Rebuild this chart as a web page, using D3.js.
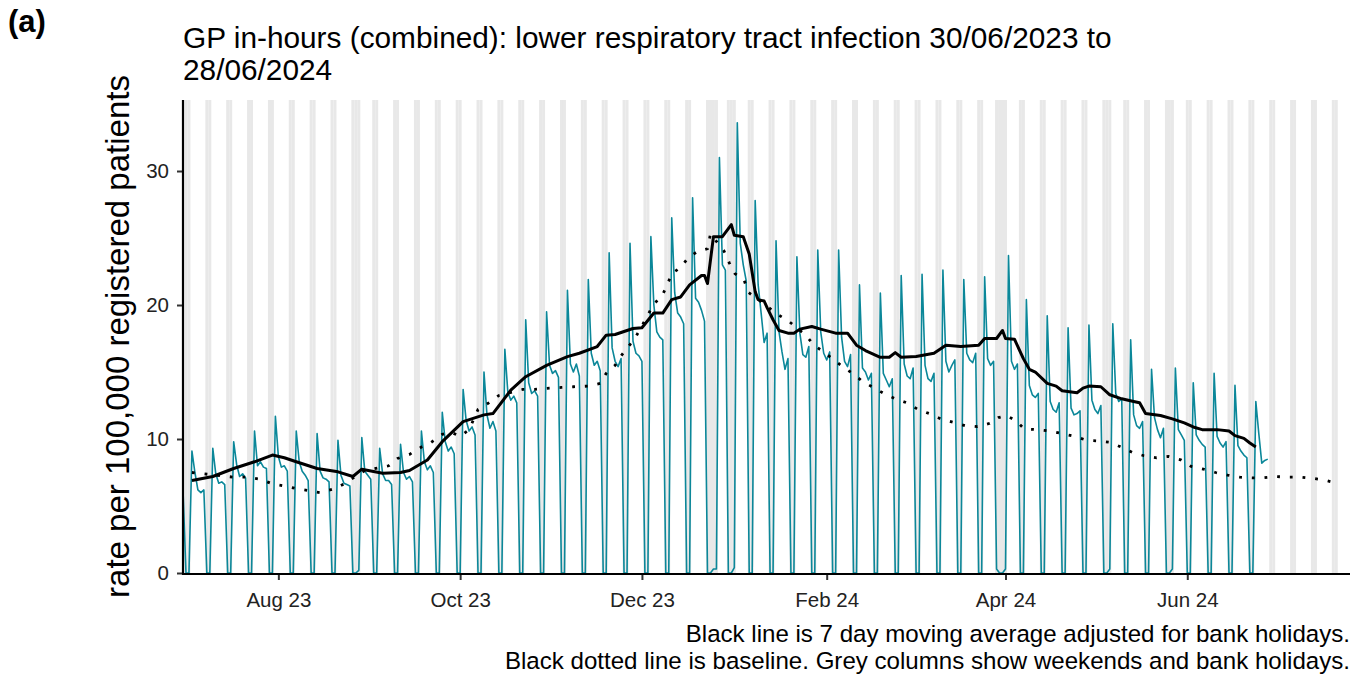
<!DOCTYPE html>
<html><head><meta charset="utf-8">
<script src="https://cdn.jsdelivr.net/npm/d3@7/dist/d3.min.js"></script>
<style>
body{margin:0;background:#fff}
svg{display:block}
text{font-family:"Liberation Sans",Arial,Helvetica,sans-serif}
</style>
</head><body>
<svg id="chart" width="1365" height="675"></svg>
<script>
// ---------------- DATA ----------------
const startDate = "2023-06-30";   // first day of the daily series
const axisEndDate = "2024-07-26"; // right end of the x axis
const xTickDates = ["2023-08-01","2023-10-01","2023-12-01","2024-02-01","2024-04-01","2024-06-01"];
const xTickLabels = ["Aug 23","Oct 23","Dec 23","Feb 24","Apr 24","Jun 24"];
const yTicks = [0,10,20,30];
const bankHolidays = ["2023-08-28","2023-12-25","2023-12-26","2024-01-01","2024-03-29","2024-04-01","2024-05-06","2024-05-27"];

// daily rate per 100,000, 30/06/2023 .. 28/06/2024 (rows: Mon..Sun)
const rate = [
                        6.2, 0, 0,
  9.1, 7.5, 6.2, 6.0, 6.2, 0, 0,
  9.3, 7.4, 6.7, 6.8, 6.6, 0, 0,
  9.8, 8.1, 7.2, 7.4, 7.1, 0, 0,
  10.6, 8.0, 8.3, 7.9, 7.8, 0, 0,
  11.7, 8.7, 7.9, 8.0, 7.6, 0, 0,
  10.6, 8.3, 7.6, 7.3, 6.9, 0, 0,
  10.4, 7.6, 7.1, 7.0, 6.8, 0, 0,
  9.9, 7.3, 6.7, 6.6, 6.5, 0, 0,
  0.2, 10.1, 7.6, 7.3, 7.0, 0, 0,
  9.3, 7.4, 6.9, 6.9, 6.6, 0, 0,
  9.6, 7.5, 7.0, 7.2, 6.8, 0, 0,
  10.6, 8.3, 7.7, 8.0, 7.5, 0, 0,
  12.0, 9.8, 9.1, 9.4, 8.9, 0, 0,
  13.7, 11.4, 10.6, 10.9, 10.3, 0, 0,
  15.0, 11.8, 10.8, 11.3, 10.6, 0, 0,
  16.7, 13.5, 12.9, 13.2, 12.7, 0, 0,
  18.9, 14.2, 13.4, 13.6, 13.2, 0, 0,
  19.5, 15.5, 14.9, 15.1, 14.6, 0, 0,
  21.1, 15.6, 15.0, 15.6, 14.7, 0, 0,
  21.9, 16.4, 15.5, 15.8, 15.1, 0, 0,
  23.9, 16.8, 15.8, 15.4, 16.0, 0, 0,
  24.6, 17.3, 16.4, 16.2, 15.8, 0, 0,
  25.1, 20.0, 18.0, 17.6, 17.4, 0, 0,
  26.5, 20.9, 19.4, 19.1, 18.6, 0, 0,
  28.0, 20.5, 20.2, 19.6, 18.8, 0, 0,
  0.3, 0.3, 31.0, 23.0, 22.6, 0, 0,
  0.4, 33.6, 24.6, 23.0, 21.8, 0, 0,
  27.8, 21.5, 19.4, 17.2, 17.9, 0, 0,
  24.8, 18.0, 16.5, 15.2, 16.0, 0, 0,
  23.6, 17.9, 16.3, 16.1, 16.9, 0, 0,
  24.1, 18.0, 16.4, 15.9, 16.5, 0, 0,
  24.1, 17.6, 15.8, 15.4, 16.3, 0, 0,
  21.5, 15.3, 15.0, 14.4, 14.9, 0, 0,
  20.9, 14.9, 14.4, 13.9, 14.5, 0, 0,
  22.2, 15.6, 14.7, 14.5, 15.3, 0, 0,
  22.3, 15.5, 14.5, 14.3, 14.9, 0, 0,
  22.6, 15.8, 15.0, 15.5, 15.9, 0, 0,
  21.9, 16.4, 15.9, 15.7, 16.4, 0, 0,
  22.1, 16.0, 15.5, 15.8, 0.3, 0, 0,
  0.3, 23.7, 15.8, 15.2, 15.6, 0, 0,
  20.4, 14.0, 13.3, 13.1, 13.4, 0, 0,
  19.2, 12.8, 12.2, 12.0, 12.7, 0, 0,
  18.3, 12.3, 11.8, 11.9, 12.1, 0, 0,
  18.5, 12.9, 12.2, 11.9, 12.5, 0, 0,
  0.3, 18.6, 13.4, 12.8, 13.0, 0, 0,
  17.4, 11.8, 11.0, 10.8, 11.3, 0, 0,
  15.2, 11.6, 10.7, 10.1, 10.8, 0, 0,
  0.3, 15.3, 10.7, 10.3, 9.9, 0, 0,
  14.2, 10.3, 9.9, 9.6, 9.4, 0, 0,
  14.9, 10.2, 9.7, 9.4, 9.8, 0, 0,
  14.0, 9.5, 9.1, 8.8, 8.6, 0, 0,
  12.8, 10.4, 8.2, 8.4, 8.5
];

// 7 day moving average (days since 30/06/2023, value)
const maDay = [3,10,17,24,30,34,38,45,52,57,60,67,73,76,82,87,94,101,104,110,115,122,129,133,139,142,145,151,154,158,161,164,167,170,174,175,176,178,181,184,185,188,190,192,193,195,196,198,200,203,205,207,211,214,219,223,226,229,234,237,239,241,246,252,256,261,267,269,273,275,276,279,282,284,286,290,293,295,300,302,304,308,311,315,319,321,323,328,332,336,339,342,347,351,353,356,358,360];
const maValue = [6.9,7.2,7.8,8.3,8.8,8.6,8.3,7.8,7.55,7.2,7.75,7.45,7.5,7.65,8.43,9.8,11.3,11.8,11.9,13.65,14.65,15.5,16.15,16.4,16.9,17.75,17.8,18.25,18.3,19.4,19.4,20.4,20.6,21.5,22.2,22.2,21.6,25.1,25.1,26.0,25.2,25.1,23.8,21.0,20.4,20.3,19.8,18.9,18.1,17.9,17.9,18.2,18.4,18.2,17.9,17.9,17.0,16.6,16.1,16.1,16.45,16.1,16.15,16.4,17.0,16.9,17.0,17.5,17.5,18.1,17.5,17.45,16.0,15.2,15.0,14.15,13.95,13.6,13.45,13.8,13.95,13.9,13.3,13.0,12.8,12.7,11.9,11.75,11.5,11.2,10.9,10.7,10.7,10.6,10.25,10.05,9.7,9.4];

// baseline (days since 30/06/2023, value)
const baseDay = [3,9,17,22,26,30,34,38,42,46,51,54,61,69,72,76,80,83,87,90,93,96,99,103,106,114,118,123,127,131,136,140,142,145,147,150,152,156,158,160.6,162.5,164,167,169.6,172.7,176,177,181.5,183.3,185.2,188.3,189.7,196,199.5,202.8,209,211.7,215,218.2,221.6,224.7,228,231.6,235.2,239,242.9,246.7,250.4,254.3,258.3,262.4,266.6,270.7,273.6,276.4,279.5,282.3,286.5,290.7,295,299.1,303.3,307.4,311,314.8,318.6,322.5,326.7,330.6,334.8,338.3,342.4,346.5,350.5,354.7,359,362.4,366.8,371,375.2,379.5,383.7,387.3];
const baseValue = [7.5,7.35,7.15,7.15,7.0,6.65,6.5,6.3,6.15,6.0,6.3,6.65,7.65,8.0,8.55,8.85,9.4,9.7,10.35,10.5,10.2,10.7,12.2,12.75,13.25,13.7,13.7,13.8,13.85,13.9,13.95,14.15,14.9,15.5,16.2,17.05,17.65,19.25,20.1,20.6,21.5,22.35,22.8,23.55,24.0,24.2,25.3,24.05,23.15,22.35,21.85,20.95,19.9,19.3,18.87,17.75,17.0,16.5,15.95,15.35,14.9,14.3,13.85,13.4,13.0,12.7,12.2,11.9,11.5,11.25,11.0,10.92,11.17,11.6,11.75,11.35,10.75,10.7,10.6,10.4,10.2,9.9,9.85,9.75,9.4,9.0,8.75,8.6,8.7,8.45,7.95,7.75,7.5,7.3,7.15,7.1,7.1,7.2,7.15,7.15,7.05,6.9,6.7];

const titleLines = ["GP in-hours (combined): lower respiratory tract infection 30/06/2023 to","28/06/2024"];
const yAxisTitle = "rate per 100,000 registered patients";
const captionLines = ["Black line is 7 day moving average adjusted for bank holidays.","Black dotted line is baseline. Grey columns show weekends and bank holidays."];
const panelLabel = "(a)";

// ---------------- CHART ----------------
(function(){
const parse = d3.utcParse("%Y-%m-%d");
const fmt = d3.utcFormat("%Y-%m-%d");
const t0 = parse(startDate);
const DAY = 864e5;
const dayToDate = d => new Date(+t0 + d * DAY);

const svg = d3.select("#chart");
const pL = 183, pR = 1350, pT = 100, pB = 573;

const x = d3.scaleUtc().domain([t0, dayToDate(391.6)]).range([pL, pR]);
const y = d3.scaleLinear().domain([0, 35.3]).range([pB, pT]);

// grey columns: weekends and bank holidays
const bh = new Set(bankHolidays);
const allDays = d3.utcDay.range(t0, d3.utcDay.offset(parse(axisEndDate), 1));
const greyDays = allDays.filter(d => d.getUTCDay() === 0 || d.getUTCDay() === 6 || bh.has(fmt(d)));
svg.append("defs").append("clipPath").attr("id","plotclip")
  .append("rect").attr("x",pL).attr("y",pT-2).attr("width",pR-pL).attr("height",pB-pT+4);
const plot = svg.append("g").attr("clip-path","url(#plotclip)");
plot.selectAll("rect.grey").data(greyDays).join("rect").attr("class","grey")
  .attr("x", d => x(new Date(+d - DAY/2)))
  .attr("width", d => x(new Date(+d + DAY/2)) - x(new Date(+d - DAY/2)))
  .attr("y", pT).attr("height", pB - pT)
  .attr("fill", "#e8e8e8");

// daily series
const daily = rate.map((v,i) => ({date: dayToDate(i), v}));
plot.append("path").datum(daily)
  .attr("d", d3.line().x(d => x(d.date)).y(d => y(d.v)))
  .attr("fill","none").attr("stroke","#0b8799").attr("stroke-width",1.6).attr("stroke-linejoin","round");

// moving average
const ma = maDay.map((d,i) => ({date: dayToDate(d), v: maValue[i]}));
plot.append("path").datum(ma)
  .attr("d", d3.line().x(d => x(d.date)).y(d => y(d.v)))
  .attr("fill","none").attr("stroke","#000").attr("stroke-width",3).attr("stroke-linejoin","round");

// baseline
const base = baseDay.map((d,i) => ({date: dayToDate(d), v: baseValue[i]}));
plot.append("path").datum(base)
  .attr("d", d3.line().x(d => x(d.date)).y(d => y(d.v)))
  .attr("fill","none").attr("stroke","#000").attr("stroke-width",2.8).attr("stroke-dasharray","2.8 9.9");

// axes
const xAxis = d3.axisBottom(x).tickValues(xTickDates.map(parse))
  .tickFormat((d,i) => xTickLabels[i]).tickSize(6).tickSizeOuter(0).tickPadding(12);
const gx = svg.append("g").attr("transform",`translate(0,${pB+1})`).call(xAxis);
const yAxis = d3.axisLeft(y).tickValues(yTicks).tickSize(6).tickSizeOuter(0).tickPadding(8);
const gy = svg.append("g").attr("transform",`translate(${pL},0)`).call(yAxis);
[gx, gy].forEach(g => {
  g.select(".domain").remove();
  g.selectAll(".tick line").attr("stroke","#333").attr("stroke-width",2);
  g.selectAll(".tick text").attr("fill","#222").style("font-size","20.5px")
   .style("font-family",'"Liberation Sans",Arial,sans-serif');
});
svg.append("line").attr("x1",pL).attr("x2",pL).attr("y1",pT).attr("y2",pB+2)
  .attr("stroke","#000").attr("stroke-width",2.2);
svg.append("line").attr("x1",pL-1).attr("x2",pR).attr("y1",pB+1).attr("y2",pB+1)
  .attr("stroke","#000").attr("stroke-width",2.2);

// texts
svg.append("text").attr("x",8).attr("y",32).text(panelLabel)
  .style("font-size","31px").style("font-weight","bold");
svg.selectAll("text.title").data(titleLines).join("text").attr("class","title")
  .attr("x",pL).attr("y",(d,i) => 48 + i*32).text(d => d).style("font-size","29.8px").attr("fill","#000");
svg.append("text").attr("transform",`translate(129,${(pT+pB)/2}) rotate(-90)`)
  .attr("text-anchor","middle").text(yAxisTitle).style("font-size","33px");
svg.selectAll("text.cap").data(captionLines).join("text").attr("class","cap")
  .attr("x",1350).attr("y",(d,i) => 642 + i*27).attr("text-anchor","end")
  .text(d => d).style("font-size","24.1px");
})();
</script>
</body></html>
